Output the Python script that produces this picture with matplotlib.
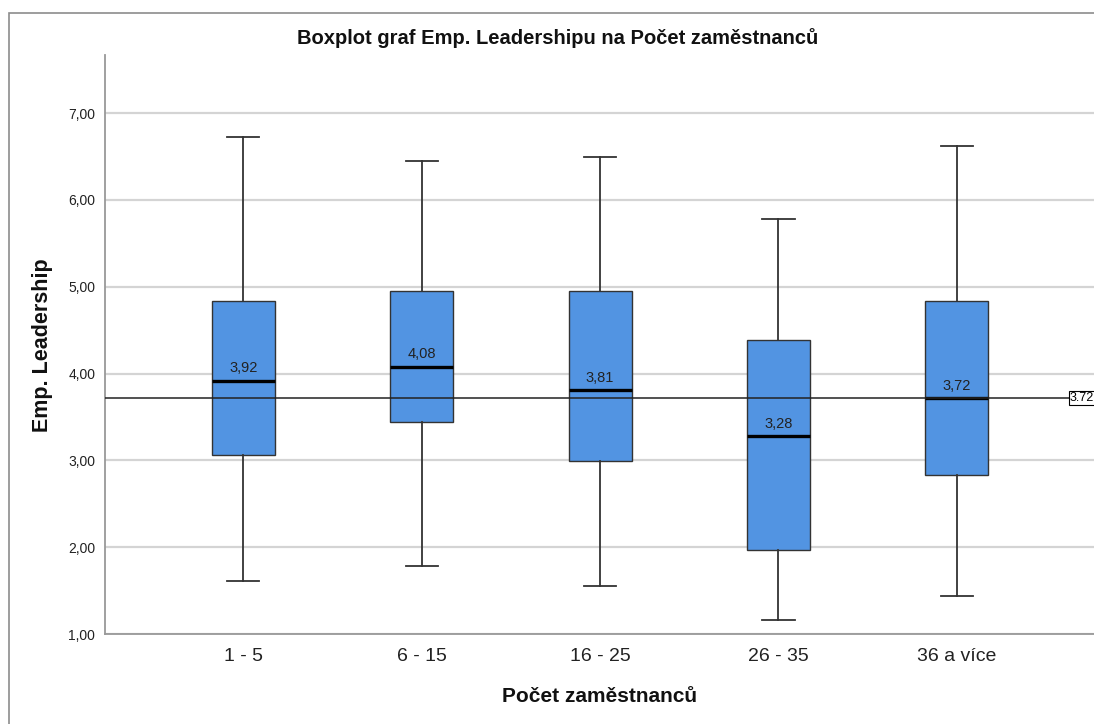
import matplotlib
matplotlib.use("Agg")
import matplotlib.pyplot as plt
from matplotlib.patches import Rectangle

plt.rcParams['font.family'] = ['Liberation Sans', 'DejaVu Sans']

categories = ["1 - 5", "6 - 15", "16 - 25", "26 - 35", "36 a více"]
whisker_low = [1.61, 1.78, 1.55, 1.16, 1.44]
q1 = [3.06, 3.44, 2.99, 1.97, 2.83]
median = [3.92, 4.08, 3.81, 3.28, 3.72]
q3 = [4.84, 4.95, 4.95, 4.39, 4.84]
whisker_high = [6.73, 6.45, 6.50, 5.78, 6.62]
reference_value = 3.72
yticks = [1, 2, 3, 4, 5, 6, 7]

W, H = 1094, 724
fig = plt.figure(figsize=(W / 100, H / 100), dpi=100)

# outer frame
fig.add_artist(Rectangle((9 / W, -0.1), 1.2, (H - 13) / H + 0.1, transform=fig.transFigure,
                         fill=False, edgecolor='#8c8c8c', linewidth=1.2))

ax = fig.add_axes([105 / W, 1 - 634 / H, (W - 105) / W + 0.002, (634 - 55) / H])

stats = []
for i, c in enumerate(categories):
    stats.append(dict(label=c, whislo=whisker_low[i], q1=q1[i], med=median[i],
                      q3=q3[i], whishi=whisker_high[i], fliers=[]))

positions = list(range(1, len(categories) + 1))
ax.bxp(stats, positions=positions, widths=0.354, patch_artist=True, showfliers=False,
       capwidths=0.18,
       boxprops=dict(facecolor='#5294e2', edgecolor='#333333', linewidth=1.0),
       whiskerprops=dict(color='#333333', linewidth=1.3),
       capprops=dict(color='#333333', linewidth=1.3),
       medianprops=dict(color='black', linewidth=2.4),
       manage_ticks=False, zorder=3)

for p, m in zip(positions, median):
    ax.text(p, m + 0.06, f"{m:.2f}".replace('.', ','), ha='center', va='bottom',
            fontsize=10.5, color='#222222', zorder=5)

ax.axhline(reference_value, color='#222222', linewidth=1.1, zorder=4)
ax.annotate(f"{reference_value:.2f}", xy=(1.0, reference_value), xycoords=('axes fraction', 'data'),
            xytext=(-1.5, 0), textcoords='offset points', ha='right', va='center', fontsize=9,
            bbox=dict(boxstyle='square,pad=0.1', facecolor='white', edgecolor='black', linewidth=0.8),
            zorder=6, annotation_clip=False)

ax.set_xlim(0.2247, 0.2247 + (W - 105) / 178)
ax.set_ylim(1.0, 7.67)
ax.set_yticks(yticks)
ax.set_yticklabels([f"{v:.2f}".replace('.', ',') for v in yticks], fontsize=10, color='#222222')
ax.set_xticks(positions)
ax.set_xticklabels(categories, fontsize=14, color='#222222')
ax.tick_params(axis='x', length=0, pad=10)
ax.tick_params(axis='y', length=0, pad=7)

ax.yaxis.grid(True, color='#d4d4d4', linewidth=1.6, zorder=0)
ax.set_axisbelow(True)
for s in ['top', 'right']:
    ax.spines[s].set_visible(False)
for s in ['left', 'bottom']:
    ax.spines[s].set_color('#999999')
    ax.spines[s].set_linewidth(1.3)

fig.text(558 / W, 1 - 38 / H, "Boxplot graf Emp. Leadershipu na Počet zaměstnanců",
         ha='center', va='center', fontsize=14.5, fontweight='bold', color='#111111')
fig.text(43 / W, 1 - 345 / H, "Emp. Leadership", rotation=90, ha='center', va='center',
         fontsize=15.5, fontweight='bold', color='#111111')
fig.text(600 / W, 1 - 697 / H, "Počet zaměstnanců", ha='center', va='center',
         fontsize=15, fontweight='bold', color='#111111')

fig.savefig("out.png", dpi=100)
